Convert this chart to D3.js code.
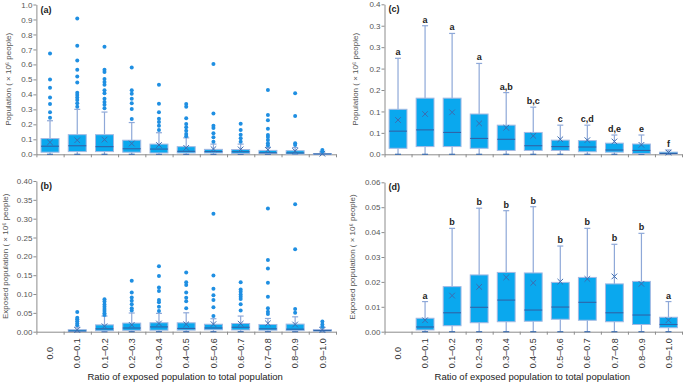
<!DOCTYPE html>
<html>
<head>
<meta charset="utf-8">
<script src="https://cdn.jsdelivr.net/npm/d3@7"></script>
<style>
  body { margin: 0; background: #fff; }
  svg { font-family: "Liberation Sans", Arial, sans-serif; }
</style>
</head>
<body>
<div id="chart"></div>
<script>
// categories on the x axis
const categories = ["0.0", "0.0–0.1", "0.1–0.2", "0.2–0.3", "0.3–0.4", "0.4–0.5",
    "0.5–0.6", "0.6–0.7", "0.7–0.8", "0.8–0.9", "0.9–1.0"];

// population (x10^6 people), box stats per category
const popQ1     = [0.014, 0.018, 0.018, 0.014, 0.009, 0.009, 0.009, 0.006, 0.005, 0.002, 0.001];
const popMedian = [0.054, 0.057, 0.051, 0.037, 0.035, 0.020, 0.018, 0.017, 0.010, 0.009, 0.002];
const popQ3     = [0.105, 0.131, 0.131, 0.094, 0.068, 0.051, 0.033, 0.032, 0.026, 0.024, 0.005];
const popMean   = [0.080, 0.094, 0.098, 0.072, 0.062, 0.043, 0.035, 0.033, 0.030, 0.022, 0.004];
const popHigh   = [0.224, 0.300, 0.282, 0.212, 0.144, 0.110, 0.068, 0.068, 0.045, 0.045, 0.010];
const popLow    = [0, 0, 0, 0, 0, 0, 0, 0, 0, 0, 0];
const popOutliers = [
    [0.673, 0.5, 0.444, 0.38, 0.336, 0.28, 0.244],
    [0.907, 0.724, 0.627, 0.564, 0.52, 0.48, 0.411, 0.396, 0.38, 0.362, 0.34, 0.318],
    [0.718, 0.564, 0.549, 0.502, 0.482, 0.464, 0.427, 0.407, 0.371, 0.349, 0.331, 0.307],
    [0.58, 0.427, 0.404, 0.371, 0.34, 0.302, 0.236],
    [0.464, 0.338, 0.28, 0.238, 0.216, 0.191, 0.162],
    [0.336, 0.318, 0.24, 0.202, 0.18, 0.158, 0.136, 0.12],
    [0.602, 0.273, 0.191, 0.176, 0.14, 0.113, 0.084],
    [0.204, 0.162, 0.131, 0.107, 0.084],
    [0.429, 0.262, 0.227, 0.171, 0.129, 0.116, 0.096, 0.073, 0.058],
    [0.407, 0.256, 0.073, 0.062],
    [0.029, 0.018]
];
const popLetters = ["a", "a", "a", "a", "a,b", "b,c", "c", "c,d", "d,e", "e", "f"];

// exposed population (x10^6 people), none in the 0.0 class
const expQ1     = [null, 0.0007, 0.0024, 0.0036, 0.0040, 0.0042, 0.0050, 0.0046, 0.0040, 0.0029, 0.0016];
const expMedian = [null, 0.0019, 0.0076, 0.0098, 0.0127, 0.0087, 0.0099, 0.0118, 0.0076, 0.0067, 0.0029];
const expQ3     = [null, 0.0054, 0.0181, 0.0228, 0.0238, 0.0236, 0.0198, 0.0218, 0.0192, 0.0202, 0.0058];
const expMean   = [null, 0.0046, 0.0145, 0.0180, 0.0218, 0.0196, 0.0201, 0.0212, 0.0222, 0.0192, 0.0046];
const expHigh   = [null, 0.0121, 0.0415, 0.0496, 0.0486, 0.0502, 0.0344, 0.0415, 0.0351, 0.0395, 0.0121];
const expLow    = [null, 0, 0, 0, 0, 0, 0, 0, 0, 0, 0];
const expOutliers = [
    [],
    [0.052, 0.037, 0.033, 0.028, 0.022, 0.017],
    [0.086, 0.080, 0.072, 0.066, 0.060, 0.055, 0.049, 0.044],
    [0.135, 0.104, 0.091, 0.082, 0.073, 0.062, 0.056],
    [0.174, 0.148, 0.117, 0.108, 0.084, 0.078, 0.066, 0.055],
    [0.157, 0.131, 0.124, 0.104, 0.09, 0.081, 0.062],
    [0.313, 0.149, 0.114, 0.097, 0.084, 0.065, 0.042],
    [0.131, 0.112, 0.106, 0.099, 0.093, 0.087, 0.073, 0.056],
    [0.327, 0.19, 0.168, 0.130, 0.093, 0.062, 0.053, 0.047],
    [0.338, 0.219, 0.06, 0.05],
    [0.027, 0.019, 0.013]
];
const expLetters = [null, "a", "b", "b", "b", "b", "b", "b", "b", "b", "a"];

// y ticks per panel
const aTicks = [0, 0.1, 0.2, 0.3, 0.4, 0.5, 0.6, 0.7, 0.8, 0.9, 1.0];
const aTickLabels = ["0.0", "0.1", "0.2", "0.3", "0.4", "0.5", "0.6", "0.7", "0.8", "0.9", "1.0"];
const bTicks = [0, 0.05, 0.1, 0.15, 0.2, 0.25, 0.3, 0.35, 0.4];
const bTickLabels = ["0.00", "0.05", "0.10", "0.15", "0.20", "0.25", "0.30", "0.35", "0.40"];
const cTicks = [0, 0.05, 0.1, 0.15, 0.2, 0.25, 0.3, 0.35];
const cTickLabels = ["0.0", "0.1", "0.1", "0.2", "0.2", "0.3", "0.3", "0.4"];
const dTicks = [0, 0.01, 0.02, 0.03, 0.04, 0.05, 0.06];
const dTickLabels = ["0.00", "0.01", "0.02", "0.03", "0.04", "0.05", "0.06"];

const popTitle = "Population ( × 10⁶ people)";
const expTitle = "Exposed population ( × 10⁶ people)";
const xTitle = "Ratio of exposed population to total population";

const width = 685, height = 383;

const svg = d3.select("#chart").append("svg")
    .attr("width", width)
    .attr("height", height);

svg.append("rect").attr("width", width).attr("height", height).attr("fill", "#fff");

function makeStats(q1, med, q3, mean, hi, lo, outl) {
    return categories.map(function(c, i) {
        return {cat: c, q1: q1[i], median: med[i], q3: q3[i], mean: mean[i],
            high: hi[i], low: lo[i], outliers: outl ? outl[i] : []};
    });
}

function drawPanel(p) {
    let g = svg.append("g");

    let x = d3.scaleBand().domain(categories).range([p.x0, p.x1]);
    let xi = d3.scaleLinear().domain([0, categories.length]).range([p.x0, p.x1]);
    let y = d3.scaleLinear().domain([0, p.max]).range([p.yBot, p.yTop]);

    // y axis
    let yAxis = g.append("g")
        .attr("transform", "translate(" + p.x0 + ",0)")
        .call(d3.axisLeft(y).tickValues(p.ticks)
            .tickFormat(function(d, i) { return p.tickLabels[i]; })
            .tickSize(3).tickSizeOuter(0));
    yAxis.select(".domain").attr("stroke", "#8c8c8c");
    yAxis.selectAll(".tick line").attr("stroke", "#8c8c8c");
    yAxis.selectAll(".tick text").attr("fill", "#555").attr("font-size", 8)
        .attr("font-family", "Liberation Sans, Arial, sans-serif").attr("x", -4);

    // x axis with ticks between categories
    let xAxis = g.append("g")
        .attr("transform", "translate(0," + p.yBot + ")")
        .call(d3.axisBottom(xi).tickValues(d3.range(0, categories.length + 1))
            .tickFormat("").tickSize(3).tickSizeOuter(0));
    xAxis.select(".domain").attr("stroke", "#8c8c8c");
    xAxis.selectAll(".tick line").attr("stroke", "#8c8c8c");

    let stats = p.stats.filter(function(d) { return d.q1 !== null; });
    let bw = x.bandwidth() * 0.66;
    let cap = 6;

    let box = g.selectAll(".box").data(stats).join("g").attr("class", "box")
        .attr("transform", function(d) { return "translate(" + (x(d.cat) + x.bandwidth() / 2) + ",0)"; });

    // whiskers
    box.append("line")
        .attr("y1", function(d) { return y(d.q3); })
        .attr("y2", function(d) { return y(d.high); })
        .attr("stroke", "#8ea8d8").attr("stroke-width", 1.2);
    box.append("line")
        .attr("y1", function(d) { return y(d.q1); })
        .attr("y2", function(d) { return y(d.low); })
        .attr("stroke", "#8ea8d8").attr("stroke-width", 1.2);
    box.append("line")
        .attr("x1", -cap / 2).attr("x2", cap / 2)
        .attr("y1", function(d) { return y(d.high); })
        .attr("y2", function(d) { return y(d.high); })
        .attr("stroke", "#8ea8d8").attr("stroke-width", 1.2);
    box.append("line")
        .attr("x1", -cap / 2).attr("x2", cap / 2)
        .attr("y1", function(d) { return y(d.low); })
        .attr("y2", function(d) { return y(d.low); })
        .attr("stroke", "#3f6fb0").attr("stroke-width", 1.2);

    // the box itself
    box.append("rect")
        .attr("x", -bw / 2).attr("width", bw)
        .attr("y", function(d) { return y(d.q3); })
        .attr("height", function(d) { return Math.max(1, y(d.q1) - y(d.q3)); })
        .attr("fill", "#0aa8ee")
        .attr("stroke", "#a3b9e3").attr("stroke-width", 1);

    // median
    box.append("line")
        .attr("x1", -bw / 2).attr("x2", bw / 2)
        .attr("y1", function(d) { return y(d.median); })
        .attr("y2", function(d) { return y(d.median); })
        .attr("stroke", "#2f64a8").attr("stroke-width", 1.1);

    // mean marker x
    let m = 2.8;
    box.append("path")
        .attr("d", function(d) {
            let cy = y(d.mean);
            return "M" + (-m) + "," + (cy - m) + "L" + m + "," + (cy + m) +
                "M" + (-m) + "," + (cy + m) + "L" + m + "," + (cy - m);
        })
        .attr("stroke", "#3d6cb0").attr("stroke-width", 1).attr("fill", "none");

    // outliers
    if (p.showOutliers) {
        box.selectAll("circle").data(function(d) { return d.outliers; }).join("circle")
            .attr("cx", 0)
            .attr("cy", function(v) { return y(v); })
            .attr("r", 2)
            .attr("fill", "#1f8fe2");
    }

    // significance letters
    if (p.letters) {
        box.append("text")
            .attr("y", function(d) { return y(d.high) - 3; })
            .attr("text-anchor", "middle")
            .attr("font-size", 9).attr("font-weight", "bold").attr("fill", "#222")
            .text(function(d) { return p.letters[categories.indexOf(d.cat)]; });
    }

    // category labels
    if (p.xLabels) {
        g.selectAll(".xlab").data(categories).join("text")
            .attr("class", "xlab")
            .attr("transform", function(d) {
                return "translate(" + (x(d) + x.bandwidth() / 2) + "," + (p.yBot + 21.5) + ") rotate(-90)";
            })
            .attr("dy", "0.35em")
            .attr("text-anchor", "middle")
            .attr("font-size", 9).attr("fill", "#333")
            .text(function(d) { return d; });

        g.append("text")
            .attr("x", (p.x0 + p.x1) / 2 - 1)
            .attr("y", 380)
            .attr("text-anchor", "middle")
            .attr("font-size", 9.5).attr("fill", "#222")
            .text(xTitle);
    }

    // y title
    g.append("text")
        .attr("transform", "translate(" + p.titleX + "," + (p.yTop + p.yBot) / 2 + ") rotate(-90)")
        .attr("dy", "0.35em")
        .attr("text-anchor", "middle")
        .attr("font-size", 8).attr("fill", "#555")
        .text(p.title);

    // panel letter
    g.append("text")
        .attr("x", p.x0 + 4).attr("y", p.yTop + 8)
        .attr("font-size", 9).attr("font-weight", "bold").attr("fill", "#222")
        .text(p.label);
}

const popStats = makeStats(popQ1, popMedian, popQ3, popMean, popHigh, popLow, popOutliers);
const expStats = makeStats(expQ1, expMedian, expQ3, expMean, expHigh, expLow, expOutliers);

drawPanel({label: "(a)", x0: 36.4, x1: 336, yTop: 4.5, yBot: 154.3, max: 1.0,
    ticks: aTicks, tickLabels: aTickLabels, stats: popStats, showOutliers: true,
    title: popTitle, titleX: 8.5});
drawPanel({label: "(b)", x0: 36.4, x1: 336, yTop: 181, yBot: 331.7, max: 0.4,
    ticks: bTicks, tickLabels: bTickLabels, stats: expStats, showOutliers: true,
    xLabels: true, title: expTitle, titleX: 5});
drawPanel({label: "(c)", x0: 384.5, x1: 682, yTop: 4.3, yBot: 154.3, max: 0.35,
    ticks: cTicks, tickLabels: cTickLabels, stats: popStats, letters: popLetters,
    title: popTitle, titleX: 355});
drawPanel({label: "(d)", x0: 384.5, x1: 682, yTop: 182.3, yBot: 331.7, max: 0.06,
    ticks: dTicks, tickLabels: dTickLabels, stats: expStats, letters: expLetters,
    xLabels: true, title: expTitle, titleX: 352});
</script>
</body>
</html>
